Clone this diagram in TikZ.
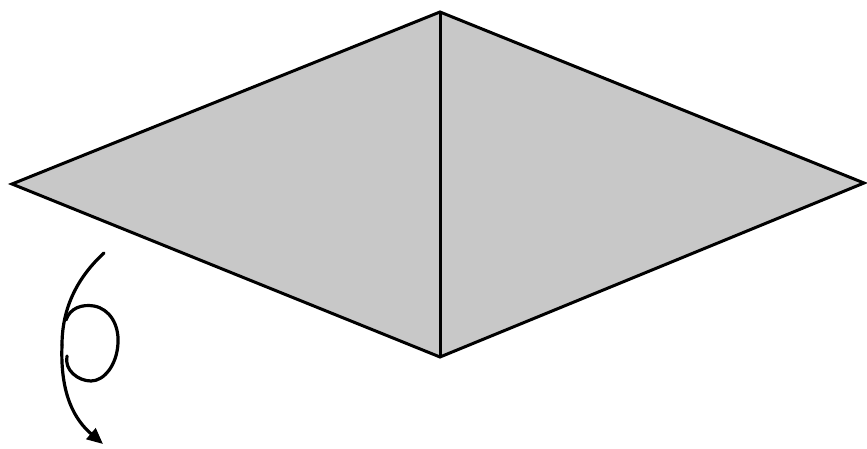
\documentclass[tikz,border=0pt]{standalone}
\usetikzlibrary{arrows.meta}
\definecolor{paper}{RGB}{200,200,200}
\tikzset{
  edge/.style={line width=3pt, line join=miter},
  turn/.style={line width=3.2pt, line cap=round},
}
\begin{document}
\begin{tikzpicture}[x=1pt,y=-1pt]
\useasboundingbox (0,0) rectangle (867,449);
\coordinate (L) at (12,184);
\coordinate (T) at (440,12);
\coordinate (R) at (864,183);
\coordinate (B) at (440,357);
\fill[paper] (L) -- (T) -- (R) -- (B) -- cycle;
\draw[edge] (L) -- (T) -- (R) -- (B) -- cycle;
\draw[edge] (T) -- (B);
% turn-over symbol
\coordinate (s) at (104,253);
\coordinate (m) at (62,345);
\coordinate (e) at (103,444);
\coordinate (ls) at (66,320);
\coordinate (le) at (67,356);
\draw[turn] (s) .. controls (80,275) and (62,305) .. (m);
\draw[turn, -{Triangle[length=16pt,width=14pt]}] (m) .. controls (60,395) and (75,420) .. (e);
\draw[turn] (ls) .. controls (70,308) and (82,304) .. (94,306)
  .. controls (110,309) and (119,325) .. (118,343)
  .. controls (117,365) and (104,381) .. (91,381)
  .. controls (78,381) and (64,370) .. (le);
\end{tikzpicture}
\end{document}
